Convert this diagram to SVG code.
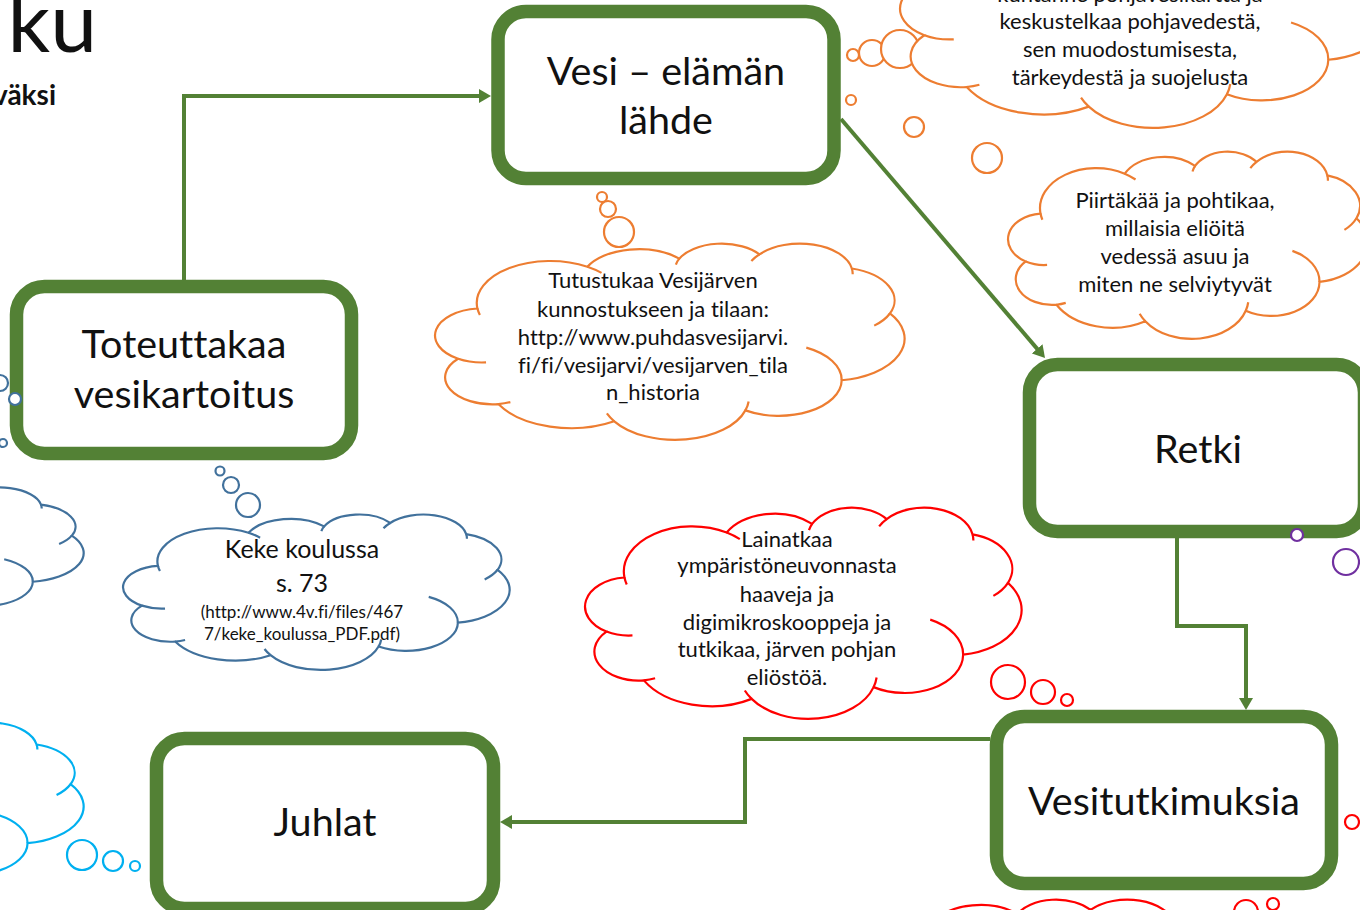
<svg xmlns="http://www.w3.org/2000/svg" xmlns:xlink="http://www.w3.org/1999/xlink" width="1360" height="910" viewBox="0 0 1360 910">
<style>
text{font-family:Lato,"Open Sans","Liberation Sans",sans-serif;fill:#111;font-variant-ligatures:none;}
.box{fill:#fff;stroke:#538135;stroke-width:13.5;}
.lbl{font-size:39.5px;text-anchor:middle;}
.ct{font-size:22px;text-anchor:middle;}
.conn{fill:none;stroke:#538135;stroke-width:4;}
.bub{fill:#fff;stroke-width:2.2;}
.or{stroke:#ED7D31;} .bl{stroke:#41719C;} .rd{stroke:#FF0000;} .cy{stroke:#00B0F0;} .pu{stroke:#7030A0;}
</style>
<defs>
<g id="cloud">
<path vector-effect="non-scaling-stroke" stroke-width="2.2" fill="#fff" d="M9.03,33.26 A15.63,21.27 0 0 1 32.42,12.05 A12.34,16.82 0 0 1 51.97,7.95 A10.10,13.76 0 0 1 69.04,5.75 A11.24,15.27 0 0 1 88.69,12.93 A12.34,16.84 0 0 1 96.79,35.77 A15.68,21.34 0 0 1 86.53,69.66 A13.39,18.21 0 0 1 66.04,84.96 A15.63,21.33 0 0 1 38.14,90.51 A17.87,24.41 0 0 1 13.47,81.77 A10.09,13.70 0 0 1 4.91,58.76 A10.06,13.76 0 0 1 9.03,33.26 Z"/>
<path vector-effect="non-scaling-stroke" stroke-width="2.2" fill="none" d="M10.86,60.6 A10.06,13.76 0 0 1 4.91,58.76 M16.04,80.78 A10.09,13.70 0 0 1 13.47,81.77 M38.14,90.51 A15.63,21.33 0 0 1 36.57,86.54 M66.73,80.44 A15.63,21.33 0 0 1 66.04,84.96 M79.0,53.13 A13.39,18.21 0 0 1 86.53,69.66 M96.79,35.77 A12.34,16.84 0 0 1 93.45,41.94 M88.69,12.93 A11.24,15.27 0 0 1 88.87,15.85 M67.31,9.15 A11.24,15.27 0 0 1 69.04,5.75 M51.25,10.93 A10.10,13.76 0 0 1 51.97,7.95 M32.42,12.05 A15.63,21.27 0 0 1 35.43,15.17 M9.55,36.55 A15.63,21.27 0 0 1 9.03,33.26"/>
</g>
<marker id="arr" markerWidth="12" markerHeight="14" viewBox="0 0 12 14" refX="4" refY="7" orient="auto" markerUnits="userSpaceOnUse">
<path d="M0,0 L12,7 L0,14 Z" fill="#538135"/>
</marker>
</defs>

<g id="title">
<text x="97" y="52" font-size="84" text-anchor="end">ku</text>
<text x="56" y="105" font-size="28" font-weight="bold" text-anchor="end">väksi</text>
</g>

<g id="connectors">
<path class="conn" d="M184,280 V96 H483" marker-end="url(#arr)"/>
<path class="conn" d="M841,119 L1039.8,351.9" marker-end="url(#arr)"/>
<path class="conn" d="M1177,538 V626 H1246 V702" marker-end="url(#arr)"/>
<path class="conn" d="M990,739 H745 V822 H508" marker-end="url(#arr)"/>
</g>

<g id="node-vesi">
<rect class="box" x="498" y="11.5" width="336" height="167" rx="28"/>
<text class="lbl" x="666" y="85">Vesi – elämän</text>
<text class="lbl" x="666" y="134">lähde</text>
</g>
<g id="node-toteuttakaa">
<rect class="box" x="16.5" y="286.5" width="335" height="167" rx="28"/>
<text class="lbl" x="184" y="358">Toteuttakaa</text>
<text class="lbl" x="184" y="408">vesikartoitus</text>
</g>
<g id="node-retki">
<rect class="box" x="1029.5" y="364.5" width="335" height="167" rx="28"/>
<text class="lbl" x="1198" y="463">Retki</text>
</g>
<g id="node-vesitutkimuksia">
<rect class="box" x="996.5" y="716.5" width="335" height="167" rx="28"/>
<text class="lbl" x="1164" y="815">Vesitutkimuksia</text>
</g>
<g id="node-juhlat">
<rect class="box" x="156.5" y="738.5" width="337" height="170" rx="28"/>
<text class="lbl" x="325" y="836">Juhlat</text>
</g>

<g id="cloud-pohjavesi">
<circle class="bub or" cx="853" cy="55" r="6"/>
<circle class="bub or" cx="872" cy="53" r="13"/>
<circle class="bub or" cx="900" cy="49" r="19"/>
<use xlink:href="#cloud" stroke="#ED7D31" transform="translate(900,-97) scale(4.95,2.25)"/>
<text class="ct" x="1130" y="2">kuntanne pohjavesikartta ja</text>
<text class="ct" x="1130" y="29">keskustelkaa pohjavedestä,</text>
<text class="ct" x="1130" y="57">sen muodostumisesta,</text>
<text class="ct" x="1130" y="85">tärkeydestä ja suojelusta</text>
</g>

<g id="cloud-piirtakaa">
<circle class="bub or" cx="851" cy="100" r="5"/>
<circle class="bub or" cx="914" cy="127" r="10"/>
<circle class="bub or" cx="987" cy="158" r="15"/>
<use xlink:href="#cloud" stroke="#ED7D31" transform="translate(1008,151) scale(3.6,1.88)"/>
<text class="ct" x="1175" y="208">Piirtäkää ja pohtikaa,</text>
<text class="ct" x="1175" y="236">millaisia eliöitä</text>
<text class="ct" x="1175" y="264">vedessä asuu ja</text>
<text class="ct" x="1175" y="292">miten ne selviytyvät</text>
</g>

<g id="cloud-tutustukaa">
<circle class="bub or" cx="602" cy="197" r="5"/>
<circle class="bub or" cx="608" cy="209" r="8"/>
<circle class="bub or" cx="619" cy="232" r="15"/>
<use xlink:href="#cloud" stroke="#ED7D31" transform="translate(435,243) scale(4.7,1.97)"/>
<text class="ct" x="653" y="288">Tutustukaa Vesijärven</text>
<text class="ct" x="653" y="317">kunnostukseen ja tilaan:</text>
<text class="ct" x="653" y="345">http://www.puhdasvesijarvi.</text>
<text class="ct" x="653" y="373">fi/fi/vesijarvi/vesijarven_tila</text>
<text class="ct" x="653" y="400">n_historia</text>
</g>

<g id="cloud-keke">
<circle class="bub bl" cx="220" cy="471" r="4.5"/>
<circle class="bub bl" cx="231" cy="485" r="8"/>
<circle class="bub bl" cx="248" cy="505" r="12"/>
<use xlink:href="#cloud" stroke="#41719C" transform="translate(123,514) scale(3.87,1.56)"/>
<text x="302" y="558" font-size="25" text-anchor="middle">Keke koulussa</text>
<text x="302" y="592" font-size="25" text-anchor="middle">s. 73</text>
<text x="302" y="618" font-size="17" text-anchor="middle">(http://www.4v.fi/files/467</text>
<text x="302" y="640" font-size="17" text-anchor="middle">7/keke_koulussa_PDF.pdf)</text>
</g>

<g id="cloud-left-blue">
<circle class="bub bl" cx="0" cy="383" r="8"/>
<circle class="bub bl" cx="15" cy="399" r="6"/>
<circle class="bub bl" cx="3" cy="443" r="4"/>
<use xlink:href="#cloud" stroke="#41719C" transform="translate(-296,487) scale(3.8,1.36)"/>
</g>

<g id="cloud-lainatkaa">
<use xlink:href="#cloud" stroke="#FF0000" transform="translate(585,507) scale(4.37,2.12)"/>
<text class="ct" x="787" y="547">Lainatkaa</text>
<text class="ct" x="787" y="573">ympäristöneuvonnasta</text>
<text class="ct" x="787" y="602">haaveja ja</text>
<text class="ct" x="787" y="630">digimikroskooppeja ja</text>
<text class="ct" x="787" y="657">tutkikaa, järven pohjan</text>
<text class="ct" x="787" y="685">eliöstöä.</text>
<circle class="bub rd" cx="1008" cy="682" r="17"/>
<circle class="bub rd" cx="1043" cy="692" r="12"/>
<circle class="bub rd" cx="1067" cy="700" r="6"/>
</g>

<g id="cloud-left-cyan">
<use xlink:href="#cloud" stroke="#00B0F0" transform="translate(-335,722) scale(4.19,1.74)"/>
<circle class="bub cy" cx="82" cy="855" r="15"/>
<circle class="bub cy" cx="113" cy="861" r="10"/>
<circle class="bub cy" cx="135" cy="866" r="5"/>
</g>

<g id="cloud-bottom-red">
<circle class="bub rd" cx="1352" cy="822" r="7"/>
<use xlink:href="#cloud" stroke="#FF0000" transform="translate(795,899) scale(4.28,1.9)"/>
<circle class="bub rd" cx="1246" cy="912" r="12"/>
<circle class="bub rd" cx="1273" cy="904" r="6"/>
</g>

<g id="purple-bubbles">
<circle class="bub pu" cx="1297" cy="535" r="6" fill="none"/>
<circle class="bub pu" cx="1346" cy="562" r="13"/>
</g>
</svg>
